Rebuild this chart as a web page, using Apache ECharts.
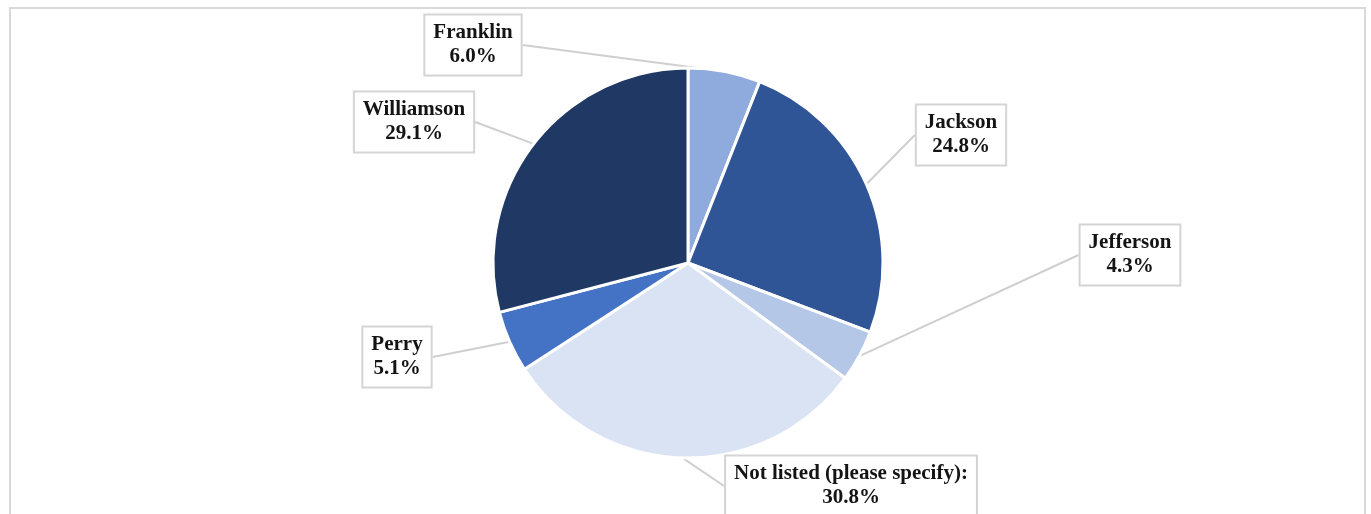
<!DOCTYPE html>
<html>
<head>
<meta charset="utf-8">
<script src="https://cdn.jsdelivr.net/npm/echarts@6/dist/echarts.min.js"></script>
<style>
html,body{margin:0;padding:0;background:#fff;}
#chart{width:1371px;height:514px;}
</style>
</head>
<body>
<div id="chart"></div>
<script>
const categories = ["Franklin", "Jackson", "Jefferson", "Not listed (please specify):", "Perry", "Williamson"];
const values = [6.0, 24.8, 4.3, 30.8, 5.1, 29.1];
const colors = ["#8FAADC", "#2F5597", "#B4C7E7", "#DAE3F3", "#4472C4", "#203864"];

// label box centres (layout only)
const labelPos = [
  [473, 45], [961, 135], [1130, 255], [851, 486], [397, 357], [414, 122]
];

const chart = echarts.init(document.getElementById('chart'));
chart.setOption({
  animation: false,
  backgroundColor: '#fff',
  graphic: [{
    type: 'rect', silent: true, z: -10,
    shape: {x: 10, y: 8, width: 1355, height: 520},
    style: {fill: 'none', stroke: '#d9d9d9', lineWidth: 2}
  }],
  series: [{
    type: 'pie',
    center: [688, 263],
    radius: [0, 195],
    startAngle: 90,
    clockwise: true,
    data: categories.map((c, i) => ({name: c, value: values[i], itemStyle: {color: colors[i]}})),
    itemStyle: {borderColor: '#fff', borderWidth: 3},
    label: {
      show: true,
      formatter: p => p.name + '\n' + p.value.toFixed(1) + '%',
      fontFamily: 'Liberation Serif',
      fontWeight: 'bold',
      fontSize: 21,
      lineHeight: 24,
      color: '#141414',
      align: 'center',
      backgroundColor: '#fff',
      borderColor: '#d4d4d4',
      borderWidth: 2,
      padding: [6, 8, 5, 8]
    },
    labelLine: {
      show: true,
      length: 0, length2: 0,
      lineStyle: {color: '#cfcfcf', width: 2}
    },
    labelLayout: function (params) {
      const p = labelPos[params.dataIndex];
      return {x: p[0], y: p[1], align: 'center', verticalAlign: 'middle'};
    }
  }]
});
</script>
</body>
</html>
